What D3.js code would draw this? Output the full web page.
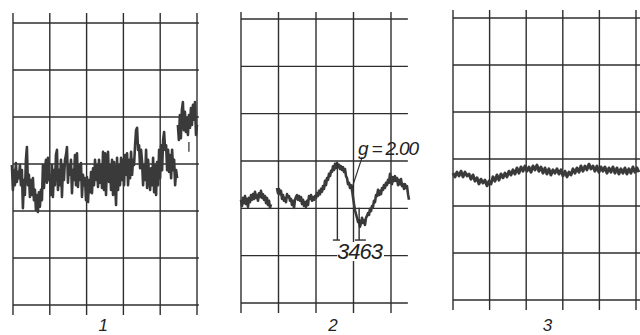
<!DOCTYPE html>
<html>
<head>
<meta charset="utf-8">
<script src="https://cdn.jsdelivr.net/npm/d3@7"></script>
<style>
  html, body { margin: 0; padding: 0; background: #fff; }
  svg { display: block; }
  text { font-family: "Liberation Sans", "DejaVu Sans", sans-serif; font-style: italic; fill: #222; }
</style>
</head>
<body>
<div id="chart"></div>
<script>
// chart-paper divisions: 10 units per square, x = sweep, y = signal
const gridY = [0, 10, 20, 30, 40, 50, 60];
const gridX1 = [0, 10, 20, 30, 40, 50];
const gridX2 = [0, 10, 20, 30, 40];
const gridX3 = [0, 10, 20, 30, 40, 50];
const panelLabels = ["1", "2", "3"];

// spectrum 1 (noisy), sampled evenly over its sweep
const trace1Sweep = [-0.3, 44.6];
const trace1 = [
  29.8,24.5,28.7,25.5,30.2,26.2,28.3,27.0,29.8,25.5,
  28.7,20.6,26.6,23.4,30.9,33.6,25.5,27.7,23.0,26.6,
  23.4,27.0,22.3,24.5,20.2,23.4,19.8,24.0,20.9,24.5,
  22.3,29.8,24.9,28.7,30.9,26.0,31.3,26.6,27.7,23.4,
  29.8,23.0,28.7,25.5,31.9,33.0,24.5,28.7,25.5,30.9,
  23.0,29.8,26.6,30.9,31.9,33.6,26.0,29.8,27.7,30.9,
  23.8,28.7,26.6,31.9,25.5,32.3,25.1,29.8,26.6,30.2,
  23.0,27.7,25.5,27.0,22.3,27.2,21.9,26.6,24.0,28.3,
  23.8,29.1,25.5,30.9,26.6,29.8,25.1,30.9,26.0,29.8,
  24.9,32.6,24.5,32.3,23.4,30.9,32.6,26.2,29.8,24.5,
  30.9,23.4,30.4,26.6,21.3,31.3,24.5,29.8,25.5,31.3,
  26.6,30.9,25.5,31.9,27.7,32.3,25.5,30.9,27.0,32.6,
  27.7,30.9,29.8,34.0,37.2,37.7,33.0,34.0,29.1,33.0,
  30.4,25.5,29.8,26.6,33.0,24.9,30.9,27.7,24.5,29.1,
  25.5,31.3,24.0,29.8,23.4,30.4,25.5,33.0,27.0,34.0,
  28.7,35.1,36.8,33.0,34.0,28.7,33.0,28.3,31.9,27.0,
  33.0,28.7,30.9,25.5,28.7,27.0
];
const trace1bSweep = [44.8, 50.0];
const trace1b = [38.3,35.1,40.4,35.5,41.5,43.2,37.2,41.1,36.8,39.8,
                 36.2,40.4,37.7,41.9,38.3,42.6,39.4,43.2,36.2,38.3];
const trace1Tick = [[47.8, 34.7], [47.8, 32.6]];

// spectrum 2 (g = 2.00 line), two pieces
const trace2aSweep = [0, 8.0];
const trace2a = [21.8,20.5,22.2,21.1,22.6,20.9,22.0,20.3,22.2,21.3,
                 22.8,21.8,23.0,22.0,23.5,22.2,22.8,21.6,23.2,22.4,
                 23.7,22.2,23.0,21.8,22.6,21.1,22.2,20.7,21.6,20.1,20.9];
const trace2bSweep = [9.6, 44.8];
const trace2b = [
  24.3,23.2,24.1,23.0,23.7,22.0,22.8,21.6,22.2,21.3,
  23.0,22.4,22.6,21.6,22.0,20.7,21.6,20.1,21.8,22.4,
  22.8,21.8,22.6,21.6,22.4,20.9,21.8,20.5,21.3,20.3,
  21.6,20.7,22.6,22.0,22.8,21.6,22.4,21.8,22.6,22.2,
  23.2,22.6,23.7,23.0,24.1,23.5,24.7,24.1,25.8,24.9,
  26.4,26.0,27.3,26.8,27.9,27.7,28.9,28.1,29.4,28.5,
  29.6,28.7,29.2,28.3,28.9,28.1,28.7,27.7,28.3,26.8,
  26.4,25.1,25.4,24.3,24.9,23.9,22.4,20.9,19.6,18.8,
  18.0,17.1,17.5,16.1,16.9,18.0,16.9,17.5,16.5,18.0,
  18.4,19.0,18.6,19.9,19.4,20.5,20.3,21.6,21.3,22.8,
  22.6,23.9,22.8,23.7,23.0,24.3,23.9,24.9,24.3,25.4,
  24.9,26.0,25.4,27.3,26.2,25.1,26.6,25.8,26.8,25.8,
  26.4,24.9,26.0,25.1,26.2,24.7,25.1,24.1,25.1,24.3,
  24.7,23.0,21.8
];
// peak-to-peak markers and annotations on spectrum 2
const markers2 = [
  { x: 25.7, top: 29.6, bottom: 13.3, foot: [24.5, 26.4] },
  { x: 31.5, top: 20.1, bottom: 13.3, foot: [30.4, 33.3] }
];
const gArrow = [[32.3, 30.8], [29.6, 24.3]];
const gLabel = { text: "g = 2.00", x: 31.2, y: 31.3 };
const fieldLabel = { text: "3463", x: 25.6, y: 9.3 };

// spectrum 3 (nearly flat)
const trace3Sweep = [0, 50.8];
const trace3 = [
  27.0,26.2,27.2,26.4,27.4,26.2,27.2,26.4,26.8,25.7,
  26.6,25.3,26.0,24.7,25.7,24.9,25.5,24.3,25.3,24.7,
  26.2,25.3,26.6,25.5,26.8,26.0,27.0,26.2,27.4,26.6,
  27.7,26.8,28.1,27.0,28.3,27.4,28.5,27.4,28.3,27.2,
  28.5,27.7,28.7,27.4,28.3,27.0,28.1,26.8,27.9,26.6,
  27.7,27.0,27.9,26.8,27.7,26.4,27.4,26.2,27.2,26.6,
  27.9,27.0,28.1,27.2,28.5,27.4,28.5,27.7,28.9,27.9,
  28.5,27.4,28.5,27.2,28.3,27.4,28.3,27.0,28.1,27.2,
  28.3,27.0,28.1,26.8,27.9,27.0,28.1,26.8,27.9,27.0,
  28.3,27.2,28.1,27.2
];

const W = 640, H = 335;
const svg = d3.select("#chart").append("svg").attr("width", W).attr("height", H);

const lineColor = "#2e2e2e";
const traceColor = "#3a3a3a";

function makePanel(opt) {
  const x = d3.scaleLinear().domain(opt.xDomain).range(opt.xRange);
  const y = d3.scaleLinear().domain([0, 60]).range(opt.yRange);
  const g = svg.append("g");

  // horizontal rulings
  g.selectAll(".hline").data(gridY).join("line")
    .attr("x1", x(opt.xDomain[0])).attr("x2", x(opt.hEnd))
    .attr("y1", d => y(d)).attr("y2", d => y(d))
    .attr("stroke", lineColor).attr("stroke-width", 1.4);

  // vertical rulings, running past the top and bottom lines
  g.selectAll(".vline").data(opt.gridX).join("line")
    .attr("x1", d => x(d)).attr("x2", d => x(d))
    .attr("y1", y(60) - opt.over[0]).attr("y2", y(0) + opt.over[1])
    .attr("stroke", lineColor).attr("stroke-width", 1.4);

  const tr = d3.line().x(d => x(d[0])).y(d => y(d[1]));
  opt.traces.forEach(t => {
    const n = t.values.length;
    const pts = t.values.map((v, i) => [t.sweep[0] + i * (t.sweep[1] - t.sweep[0]) / (n - 1), v]);
    g.append("path").attr("d", tr(pts))
      .attr("fill", "none").attr("stroke", traceColor)
      .attr("stroke-width", t.width).attr("stroke-linejoin", "round");
  });

  g.append("text")
    .attr("x", x(opt.labelAt)).attr("y", opt.labelY)
    .attr("text-anchor", "middle").attr("font-size", 17)
    .text(opt.label);

  return { g, x, y, tr };
}

// panel 1
const p1 = makePanel({
  xDomain: [0, 50], xRange: [13, 197], yRange: [305, 23], hEnd: 50.5,
  gridX: gridX1, over: [10, 10],
  traces: [
    { sweep: trace1Sweep, values: trace1, width: 2.6 },
    { sweep: trace1bSweep, values: trace1b, width: 2.6 }
  ],
  label: panelLabels[0], labelAt: 24.5, labelY: 331
});
p1.g.append("path").attr("d", p1.tr(trace1Tick))
  .attr("stroke", traceColor).attr("stroke-width", 1.3);

// panel 2
const p2 = makePanel({
  xDomain: [0, 40], xRange: [241, 391], yRange: [303, 19], hEnd: 44.5,
  gridX: gridX2, over: [7, 10],
  traces: [
    { sweep: trace2aSweep, values: trace2a, width: 2.6 },
    { sweep: trace2bSweep, values: trace2b, width: 2.6 }
  ],
  label: panelLabels[1], labelAt: 24.5, labelY: 331
});
markers2.forEach(m => {
  p2.g.append("line")
    .attr("x1", p2.x(m.x)).attr("x2", p2.x(m.x))
    .attr("y1", p2.y(m.top)).attr("y2", p2.y(m.bottom))
    .attr("stroke", lineColor).attr("stroke-width", 1.4);
  p2.g.append("line")
    .attr("x1", p2.x(m.foot[0])).attr("x2", p2.x(m.foot[1]))
    .attr("y1", p2.y(m.bottom)).attr("y2", p2.y(m.bottom))
    .attr("stroke", lineColor).attr("stroke-width", 1.4);
});
p2.g.append("path").attr("d", p2.tr(gArrow))
  .attr("stroke", lineColor).attr("stroke-width", 1.1);
p2.g.append("text")
  .attr("x", p2.x(gLabel.x)).attr("y", p2.y(gLabel.y))
  .attr("font-size", 19).attr("textLength", 61)
  .text(gLabel.text);
const fl = p2.g.append("g");
fl.append("rect")
  .attr("x", p2.x(fieldLabel.x)).attr("y", p2.y(fieldLabel.y) - 17)
  .attr("width", 47).attr("height", 19).attr("fill", "#fff");
fl.append("text")
  .attr("x", p2.x(fieldLabel.x)).attr("y", p2.y(fieldLabel.y))
  .attr("font-size", 22).attr("textLength", 46)
  .text(fieldLabel.text);

// panel 3
makePanel({
  xDomain: [0, 50], xRange: [453, 636], yRange: [300, 18], hEnd: 52,
  gridX: gridX3, over: [8, 10],
  traces: [{ sweep: trace3Sweep, values: trace3, width: 3.0 }],
  label: panelLabels[2], labelAt: 25.8, labelY: 331
});
</script>
</body>
</html>
